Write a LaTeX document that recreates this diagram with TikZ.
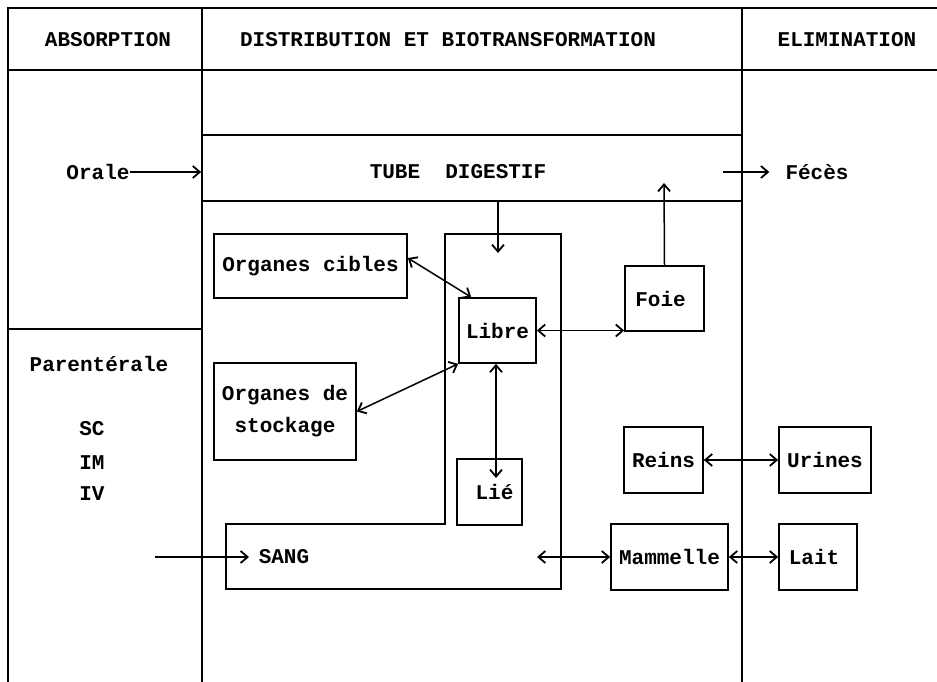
\documentclass[tikz,border=0pt]{standalone}
\usepackage{fontspec}
\setmainfont{Liberation Mono}
\usetikzlibrary{arrows.meta,calc}
\begin{document}
\begin{tikzpicture}[x=1pt,y=-1pt,
  lab/.style={font=\fontsize{21}{32}\selectfont\bfseries, inner sep=0pt},
  box/.style={draw, line width=1.7pt, lab, align=center},
  frame/.style={line width=1.7pt},
  tip/.tip={Straight Barb[length=7pt,width=12pt,line width=1.8pt]},
  arr/.style={line width=1.5pt, -tip},
  dbl/.style={line width=1.5pt, tip-tip}]
\useasboundingbox (0,0) rectangle (937,682);
% frame
\draw[frame] (8,682) -- (8,8) -- (937,8);
\draw[frame] (8,70) -- (937,70);
\draw[frame] (202,8) -- (202,682);
\draw[frame] (742,8) -- (742,682);
\draw[frame] (8,329) -- (202,329);
% headers
\node[lab] (habs) at (108,40) {ABSORPTION};
\node[lab] (hdist) at (448,40) {DISTRIBUTION ET BIOTRANSFORMATION};
\node[lab] (helim) at (847,40) {ELIMINATION};
% tube
\node[draw, line width=1.7pt, minimum width=540, minimum height=66, inner sep=0pt] (tube) at (472,168) {};
\node[lab] (tubet) at (458,172) {TUBE\ \ DIGESTIF};
\node[lab] (orale) at (98,172) {Orale};
\node[lab] (fec) at (817,172) {Fécès};
% left column
\node[lab] (par) at (99,364) {Parentérale};
\node[lab] (sc) at (92,429) {SC};
\node[lab] (im) at (92,463) {IM};
\node[lab] (iv) at (92,494) {IV};
% sang / container
\draw[line width=1.7pt] (445,234) -- (561,234) -- (561,589) -- (226,589) -- (226,524) -- (445,524) -- cycle;
\node[lab] (sang) at (284,557) {SANG};
% boxes
\node[box, minimum width=193, minimum height=64] (cibles) at (310.5,266) {Organes cibles};
\node[box, minimum width=142, minimum height=97] (stock) at (285,411.5) {Organes de\\stockage};
\node[box, minimum width=77, minimum height=65] (libre) at (497.5,330.5) {Libre};
\node[box, minimum width=65, minimum height=66] (lie) at (489.5,492) {\hspace*{10pt}Lié};
\node[box, minimum width=79, minimum height=65] (foie) at (664.5,298.5) {Foie\hspace*{8pt}};
\node[box, minimum width=79, minimum height=66] (reins) at (663.5,460) {Reins};
\node[box, minimum width=92, minimum height=66] (urines) at (825,460) {Urines};
\node[box, minimum width=117, minimum height=66] (mam) at (669.5,557) {Mammelle};
\node[box, minimum width=78, minimum height=66] (lait) at (818,557) {Lait\hspace*{8pt}};
% coordinates
\coordinate (fecin) at (723,172);
\coordinate (contin) at (498,253);
\coordinate (foieup) at (664,183);
\coordinate (liein) at (496,478);
\coordinate (sangr) at (537,557);
\coordinate (sangl) at (155,557);
\coordinate (sangin) at (249,557);
% connectors
\draw[arr] (orale.east) -- (tube.west |- orale.east);
\draw[arr] (fecin) -- ([xshift=-16pt]fec.west);
\draw[arr] (tube.south -| contin) -- (contin);
\draw[arr] (foie.north) -- (foieup);
\draw[dbl] ([yshift=8pt]cibles.east) -- ([xshift=13pt]libre.north west);
\draw[dbl] (stock.east) -- (libre.south west);
\draw[dbl] (liein |- libre.south) -- (liein);
\draw[dbl] (libre.east) -- (libre.east -| foie.west);
\draw[dbl] (sangr) -- (mam.west);
\draw[arr] (sangl) -- (sangin);
\draw[dbl] (reins.east) -- (urines.west);
\draw[dbl] (mam.east) -- (lait.west);
\end{tikzpicture}
\end{document}
